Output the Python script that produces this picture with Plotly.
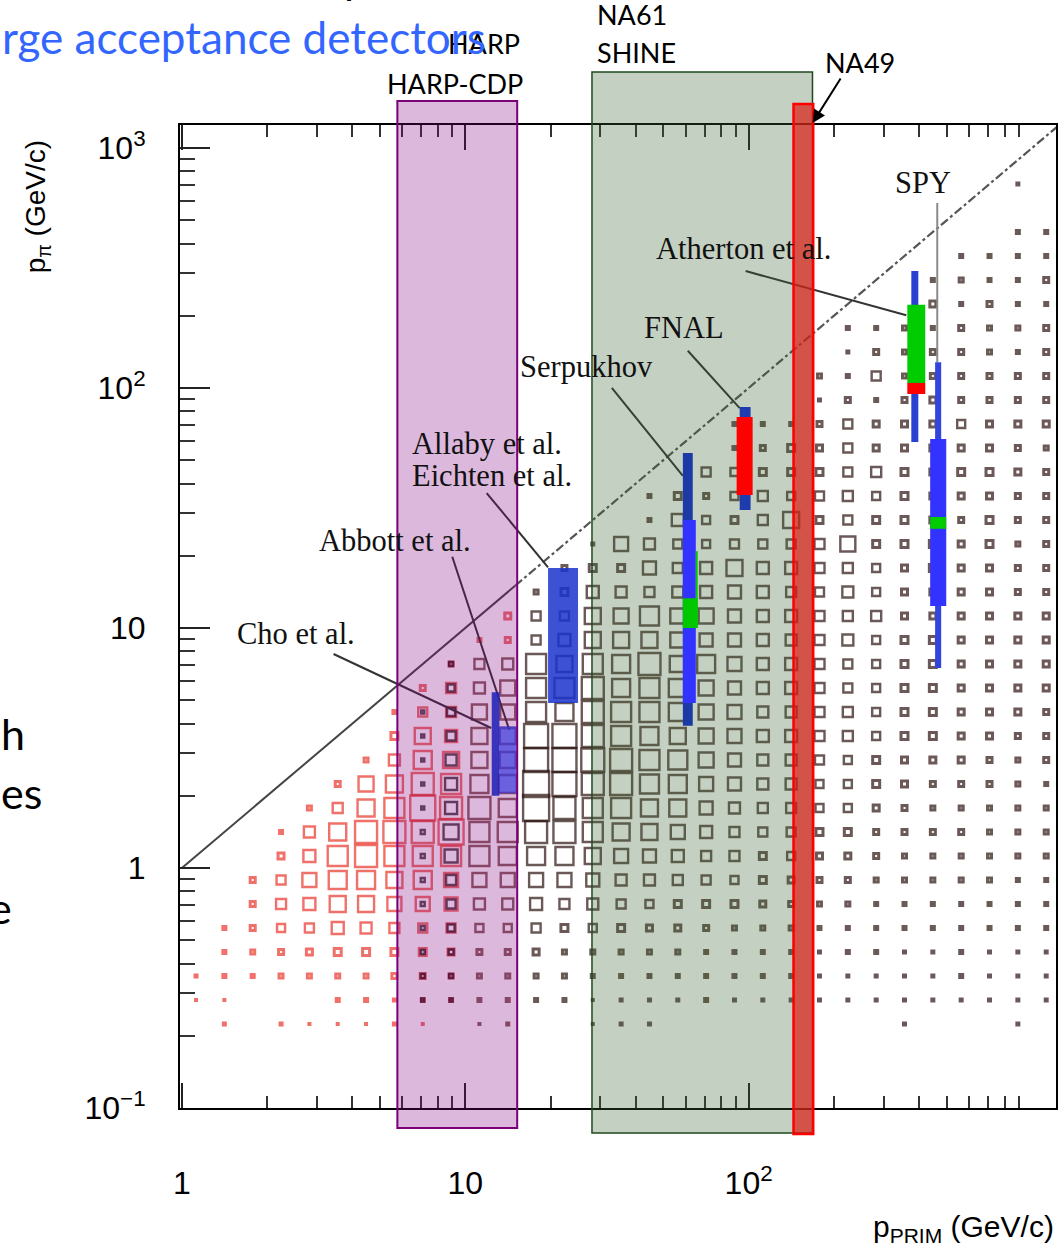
import numpy as np
import plotly.graph_objects as go

# ---------------- data ----------------
# log10 bin centres of the 2-D box histogram
x_bin_log = [0.05, 0.15, 0.25, 0.35, 0.45, 0.55, 0.65, 0.75, 0.85, 0.95,
             1.05, 1.15, 1.25, 1.35, 1.45, 1.55, 1.65, 1.75, 1.85, 1.95,
             2.05, 2.15, 2.25, 2.35, 2.45, 2.55, 2.65, 2.75, 2.85, 2.95, 3.05]
y_bin_log = [2.85, 2.75, 2.65, 2.55, 2.45, 2.35, 2.25, 2.15, 2.05, 1.95,
             1.85, 1.75, 1.65, 1.55, 1.45, 1.35, 1.25, 1.15, 1.05, 0.95,
             0.85, 0.75, 0.65, 0.55, 0.45, 0.35, 0.25, 0.15, 0.05, -0.05,
             -0.15, -0.25, -0.35, -0.45, -0.55, -0.65]

# box size (pixels) per cell, rows = y bins (top to bottom), cols = x bins
box_size = [
    [0,0,0,0,0,0,0,0,0,0, 0,0,0,0,0,0,0,0,0,0, 0,0,0,0,0,0,0,0,0,2, 0],
    [0,0,0,0,0,0,0,0,0,0, 0,0,0,0,0,0,0,0,0,0, 0,0,0,0,0,0,0,0,0,0, 0],
    [0,0,0,0,0,0,0,0,0,0, 0,0,0,0,0,0,0,0,0,0, 0,0,0,0,0,0,0,0,0,3, 3],
    [0,0,0,0,0,0,0,0,0,0, 0,0,0,0,0,0,0,0,0,0, 0,0,0,0,0,0,0,3,3,3, 3],
    [0,0,0,0,0,0,0,0,0,0, 0,0,0,0,0,0,0,0,0,0, 0,0,0,0,0,0,3,4,3,3, 5],
    [0,0,0,0,0,0,0,0,0,0, 0,0,0,0,0,0,0,0,0,0, 0,0,0,0,0,0,6,3,5,3, 3],
    [0,0,0,0,0,0,0,0,0,0, 0,0,0,0,0,0,0,0,0,0, 0,0,0,3,3,4,3,5,4,4, 5],
    [0,0,0,0,0,0,0,0,0,0, 0,0,0,0,0,0,0,0,0,0, 0,0,0,2,5,4,5,5,4,3, 5],
    [0,0,0,0,0,0,0,0,0,0, 0,0,0,0,0,0,0,0,0,0, 0,0,4,3,9,4,5,5,5,5, 5],
    [0,0,0,0,0,0,0,0,0,0, 0,0,0,0,0,0,0,0,0,0, 0,0,2,5,3,5,6,5,5,5, 5],
    [0,0,0,0,0,0,0,0,0,0, 0,0,0,0,0,0,0,0,0,3, 3,3,5,9,6,6,6,8,6,6, 6],
    [0,0,0,0,0,0,0,0,0,0, 0,0,0,0,0,0,0,0,0,3, 5,7,6,9,6,6,6,6,6,5, 4],
    [0,0,0,0,0,0,0,0,0,0, 0,0,0,0,0,0,0,0,9,8, 7,7,7,9,10,7,6,7,7,6, 5],
    [0,0,0,0,0,0,0,0,0,0, 0,0,0,0,0,0,3,7,5,8, 10,8,9,10,8,7,6,6,6,5, 5],
    [0,0,0,0,0,0,0,0,0,0, 0,0,0,0,0,0,3,12,8,7, 10,16,7,9,7,7,6,5,7,5, 5],
    [0,0,0,0,0,0,0,0,0,0, 0,0,0,0,2,14,11,9,8,9, 9,9,10,15,7,7,7,6,7,4, 5],
    [0,0,0,0,0,0,0,0,0,0, 0,0,0,5,7,7,13,10,12,16, 12,12,10,10,8,6,7,6,6,5, 5],
    [0,0,0,0,0,0,0,0,0,0, 0,0,4,7,12,11,10,11,12,13, 12,10,9,11,8,6,6,6,6,5, 5],
    [0,0,0,0,0,0,0,0,0,0, 0,6,9,9,16,15,19,15,15,13, 12,12,10,10,10,6,6,6,6,6, 6],
    [0,0,0,0,0,0,0,0,0,0, 3,5,9,12,16,16,16,15,13,13, 12,11,10,11,8,7,7,6,6,6, 6],
    [0,0,0,0,0,0,0,0,0,4, 10,11,20,16,20,18,22,16,18,14, 12,12,10,9,8,7,7,6,6,6, 6],
    [0,0,0,0,0,0,0,0,5,10, 11,15,20,20,22,18,20,18,15,13, 12,12,10,9,8,7,7,6,6,6, 6],
    [0,0,0,0,0,0,0,3,9,10, 15,15,20,18,22,20,20,18,15,14, 11,11,10,10,8,7,7,6,6,6, 5],
    [0,0,0,0,0,0,0,7,16,12, 16,16,24,24,22,20,18,16,15,14, 12,12,10,10,8,7,7,6,6,5, 5],
    [0,0,0,0,0,0,4,11,18,16, 16,16,24,24,23,22,20,19,15,13, 11,11,9,8,7,6,6,6,5,4, 5],
    [0,0,0,0,0,5,15,17,22,20, 18,18,26,24,22,22,19,18,14,13, 11,11,8,8,7,6,5,5,5,4, 3],
    [0,0,0,0,4,10,17,20,25,22, 22,18,26,22,20,20,17,17,13,11, 10,10,8,8,6,5,4,4,4,4, 4],
    [0,0,0,3,11,17,22,22,22,25, 20,20,22,22,20,17,16,14,12,10, 9,9,7,7,5,5,5,5,4,4, 4],
    [0,0,0,6,12,20,22,20,20,20, 20,18,18,18,16,14,13,12,10,10, 7,8,6,6,5,4,4,4,4,4, 4],
    [0,0,5,9,14,18,18,16,18,14, 14,14,14,14,13,11,11,10,9,8, 7,6,5,5,4,4,4,4,4,3, 3],
    [0,0,5,10,12,16,16,14,14,13, 11,11,12,10,11,9,8,7,7,7, 6,5,4,4,3,3,3,3,3,3, 3],
    [0,3,5,8,9,12,11,10,9,9, 8,8,9,7,8,7,6,6,5,4, 4,4,3,3,3,3,3,3,3,3, 3],
    [0,3,4,5,6,7,7,7,7,6, 5,5,6,4,4,4,4,4,3,3, 3,3,2,3,3,2,2,3,2,2, 2],
    [2,3,3,4,4,4,4,5,5,4, 4,4,4,4,3,3,3,3,3,3, 3,3,2,2,2,2,2,3,2,2, 2],
    [1,1,0,0,0,3,3,2,3,3, 3,3,3,3,1,2,2,2,3,2, 2,2,2,2,2,2,2,2,2,2, 2],
    [0,2,0,2,1,1,1,2,1,0, 1,2,0,0,1,2,2,0,0,0, 0,0,0,0,0,2,0,0,0,2, 0],
]
# inner black boxes of the second histogram in the two transition columns
inner_col8 = [0]*22 + [3, 3, 3, 3, 3, 4, 4, 4, 4, 4, 4, 4, 3, 0]
inner_col9 = [0]*20 + [4, 7, 8, 9, 11, 12, 12, 15, 13, 10, 9, 7, 5, 4, 3, 0]

# kinematic limit p_pi = p_prim
diag_solid_p = [1.0, 15.0]
diag_dash_p = [15.0, 1300.0]

# experiment coverage bars
bar_p0 = [12.4, 13.2, 19.6, 58.6, 58.6, 58.6, 65.1, 93.0, 90.7, 375, 363, 363, 455, 437, 437]
bar_p1 = [13.2, 15.1, 25.0, 63.5, 65.1, 66.1, 66.1, 101.6, 103.3, 397, 420, 420, 478, 498, 498]
bar_pi0 = [2.0, 2.05, 4.87, 3.91, 4.87, 10.0, 10.0, 31.0, 35.8, 59.6, 105, 94.4, 6.81, 12.35, 25.9]
bar_pi1 = [5.4, 3.9, 17.8, 53.6, 28.2, 13.3, 20.9, 83.3, 75.7, 307, 222, 105, 128, 61.3, 29.0]
bar_color = ["#2626b8", "#3a3ae0", "#1a33cc", "#1c3aa6", "#3333ff", "#00c800", "#00c800",
             "#1e3cae", "#ff0000", "#2a40d0", "#00cc00", "#ff0000", "#3344dd", "#3333ff", "#00cc00"]
bar_opacity = [0.9, 0.7, 0.85, 1, 1, 1, 1, 1, 1, 1, 1, 1, 1, 1, 1]

# experiment labels (left edge p, centre p_pi)
label_text = ["SPY", "Atherton et al.", "FNAL", "Serpukhov", "Allaby et al.",
              "Eichten et al.", "Abbott et al.", "Cho et al."]
label_p = [324, 46.3, 42.0, 15.4, 6.40, 6.40, 2.99, 1.54]
label_pi = [715, 379, 178, 122, 58.4, 43.0, 23.0, 9.44]

# leader lines
lead_p0 = [463, 97.6, 61.0, 32.9, 11.9, 9.0, 3.43]
lead_pi0 = [590, 307, 143, 100, 36.5, 19.8, 7.79]
lead_p1 = [463, 360, 93.0, 58.6, 19.6, 14.3, 12.35]
lead_pi1 = [128, 201, 82.5, 43.0, 17.9, 3.76, 3.83]
lead_color = ["#8a8a8a", "#333333", "#333333", "#333333", "#333333", "#333333", "#333333"]

# detector acceptance bands (p_prim ranges)
band_name = ["HARP", "NA61", "NA49"]
band_p0 = [5.76, 28.0, 144]
band_p1 = [15.25, 168, 169]

x_tickvals = [1, 10, 100]
x_ticktext = ["1", "10", "10<sup>2</sup>"]
y_tickvals = [0.1, 1, 10, 100, 1000]
y_ticktext = ["10<sup>\u22121</sup>", "1", "10", "10<sup>2</sup>", "10<sup>3</sup>"]
minor_x = [2, 3, 4, 5, 6, 7, 8, 9, 20, 30, 40, 50, 60, 70, 80, 90,
           200, 300, 400, 500, 600, 700, 800, 900]
minor_y = [0.2, 0.3, 0.4, 0.5, 0.6, 0.7, 0.8, 0.9] + minor_x

# ---------------- layout geometry ----------------
W, H = 1061, 1244
L, R, T, B = 180, 3, 125, 136
PW, PH = W - L - R, H - T - B


def px(xp):
    return (xp - L) / PW


def py(yp):
    return (H - B - yp) / PH


RED, MID, DARK = "#e8352b", "#5a1f1a", "#2b1210"

fig = go.Figure()

# box histogram
xs, ys, ss, cs, lws = [], [], [], [], []
for k, row in enumerate(box_size):
    for c, s in enumerate(row):
        if s <= 0:
            continue
        xs.append(10 ** x_bin_log[c])
        ys.append(10 ** y_bin_log[k])
        ss.append(s)
        lws.append(3.0 if s <= 7 else 2.4)
        if c <= 9:
            cs.append(RED)
        elif c <= 11:
            cs.append(RED if k <= 19 else MID)
        else:
            cs.append(DARK)
fig.add_trace(go.Scatter(x=xs, y=ys, mode="markers", hoverinfo="skip",
                         marker=dict(symbol="square-open", size=ss, color=cs,
                                     line=dict(width=lws)),
                         showlegend=False))

ix, iy, isz = [], [], []
for col, arr in ((8, inner_col8), (9, inner_col9)):
    for k, s in enumerate(arr):
        if s > 0:
            ix.append(10 ** x_bin_log[col])
            iy.append(10 ** y_bin_log[k])
            isz.append(s)
fig.add_trace(go.Scatter(x=ix, y=iy, mode="markers", hoverinfo="skip",
                         marker=dict(symbol="square-open", size=isz, color="#150606",
                                     line=dict(width=2.4)),
                         showlegend=False))

# diagonal p_pi = p_prim
fig.add_trace(go.Scatter(x=diag_solid_p, y=diag_solid_p, mode="lines",
                         line=dict(color="#444444", width=2), showlegend=False))
fig.add_trace(go.Scatter(x=diag_dash_p, y=diag_dash_p, mode="lines",
                         line=dict(color="#555555", width=2.2, dash="dashdot"),
                         showlegend=False))

shapes = []
# leader lines
for a, b, c2, d, col in zip(lead_p0, lead_pi0, lead_p1, lead_pi1, lead_color):
    shapes.append(dict(type="line", xref="x", yref="y", x0=a, y0=b, x1=c2, y1=d,
                       line=dict(color=col, width=2), layer="above"))
# bands
band_style = {
    "HARP": dict(fill="rgba(128,0,128,0.28)", line="#7a007a", lw=2, top=101, bot=1128),
    "NA61": dict(fill="rgba(60,100,50,0.30)", line="#1e4a1e", lw=1.5, top=72, bot=1133),
    "NA49": dict(fill="rgba(220,30,20,0.70)", line="#ff0000", lw=2.5, top=104, bot=1134),
}
for name, p0, p1 in zip(band_name, band_p0, band_p1):
    st = band_style[name]
    shapes.append(dict(type="rect", xref="x", yref="paper", x0=p0, x1=p1,
                       y0=py(st["bot"]), y1=py(st["top"]), fillcolor=st["fill"],
                       line=dict(color=st["line"], width=st["lw"]), layer="above"))
# experiment bars
for a, b, c2, d, col, op in zip(bar_p0, bar_p1, bar_pi0, bar_pi1, bar_color, bar_opacity):
    shapes.append(dict(type="rect", xref="x", yref="y", x0=a, x1=b, y0=c2, y1=d,
                       fillcolor=col, opacity=op, line=dict(width=0), layer="above"))

annotations = []
SERIF = "Liberation Serif"
for t, p, q in zip(label_text, label_p, label_pi):
    annotations.append(dict(text=t, x=np.log10(p), y=np.log10(q), xref="x", yref="y",
                            xanchor="left", yanchor="middle", showarrow=False,
                            font=dict(family=SERIF, size=30.5, color="#111111")))

SLIDE = "Lato"
slide_text = [
    ("HARP", 447, 43, 27, "black"),
    ("HARP-CDP", 385, 83, 27, "black"),
    ("NA61", 596, 15, 27, "black"),
    ("SHINE", 596, 53, 27, "black"),
    ("NA49", 824, 62, 27, "black"),
    ("rge acceptance detectors", 0, 37, 44, "#3366ff"),
    ("h", -1, 733, 43, "black"),
    ("es", -1, 792, 43, "black"),
    ("e", -13, 907, 43, "black"),
    ("p", 342, -22, 43, "black"),
]
for t, xp, yp, fs, col in slide_text:
    annotations.append(dict(text=t, x=px(xp), y=py(yp), xref="paper", yref="paper",
                            xanchor="left", yanchor="middle", showarrow=False,
                            font=dict(family=SLIDE, size=fs, color=col)))

# NA49 arrow
annotations.append(dict(text="", x=px(814), y=py(123), xref="paper", yref="paper",
                        ax=29, ay=-46, showarrow=True, arrowhead=2, arrowsize=1.3,
                        arrowwidth=2, arrowcolor="black"))

# axis titles
annotations.append(dict(text="p<sub>\u03c0</sub> (GeV/c)", x=px(37), y=py(207),
                        xref="paper", yref="paper", textangle=-90, showarrow=False,
                        xanchor="center", yanchor="middle",
                        font=dict(family="Liberation Sans", size=28, color="black")))
annotations.append(dict(text="p<sub>PRIM</sub> (GeV/c)", x=px(1058), y=py(1228),
                        xref="paper", yref="paper", showarrow=False,
                        xanchor="right", yanchor="middle",
                        font=dict(family="Liberation Sans", size=30, color="black")))

axis_common = dict(type="log", showgrid=False, zeroline=False, showline=True,
                   linecolor="black", linewidth=2, ticks="inside", tickwidth=2,
                   tickcolor="#222222", tickmode="array",
                   tickfont=dict(family="Liberation Sans", size=32, color="black"))

fig.update_layout(
    width=W, height=H,
    margin=dict(l=L, r=R, t=T, b=B, pad=0),
    paper_bgcolor="white", plot_bgcolor="white",
    showlegend=False,
    xaxis=dict(**axis_common, range=[np.log10(0.985), np.log10(1215)],
               tickvals=x_tickvals, ticktext=x_ticktext, ticklen=25,
               mirror="allticks", ticklabelstandoff=46,
               minor=dict(tickmode="array", tickvals=minor_x, ticks="inside",
                          ticklen=12, tickwidth=2, tickcolor="#333333")),
    yaxis=dict(**axis_common, range=[-1.0, 3.0958],
               tickvals=y_tickvals, ticktext=y_ticktext, ticklen=30,
               mirror=True, ticklabelstandoff=26,
               minor=dict(tickmode="array", tickvals=minor_y, ticks="inside",
                          ticklen=15, tickwidth=2, tickcolor="#333333")),
    shapes=shapes,
    annotations=annotations,
)

fig.write_html("out.html")
